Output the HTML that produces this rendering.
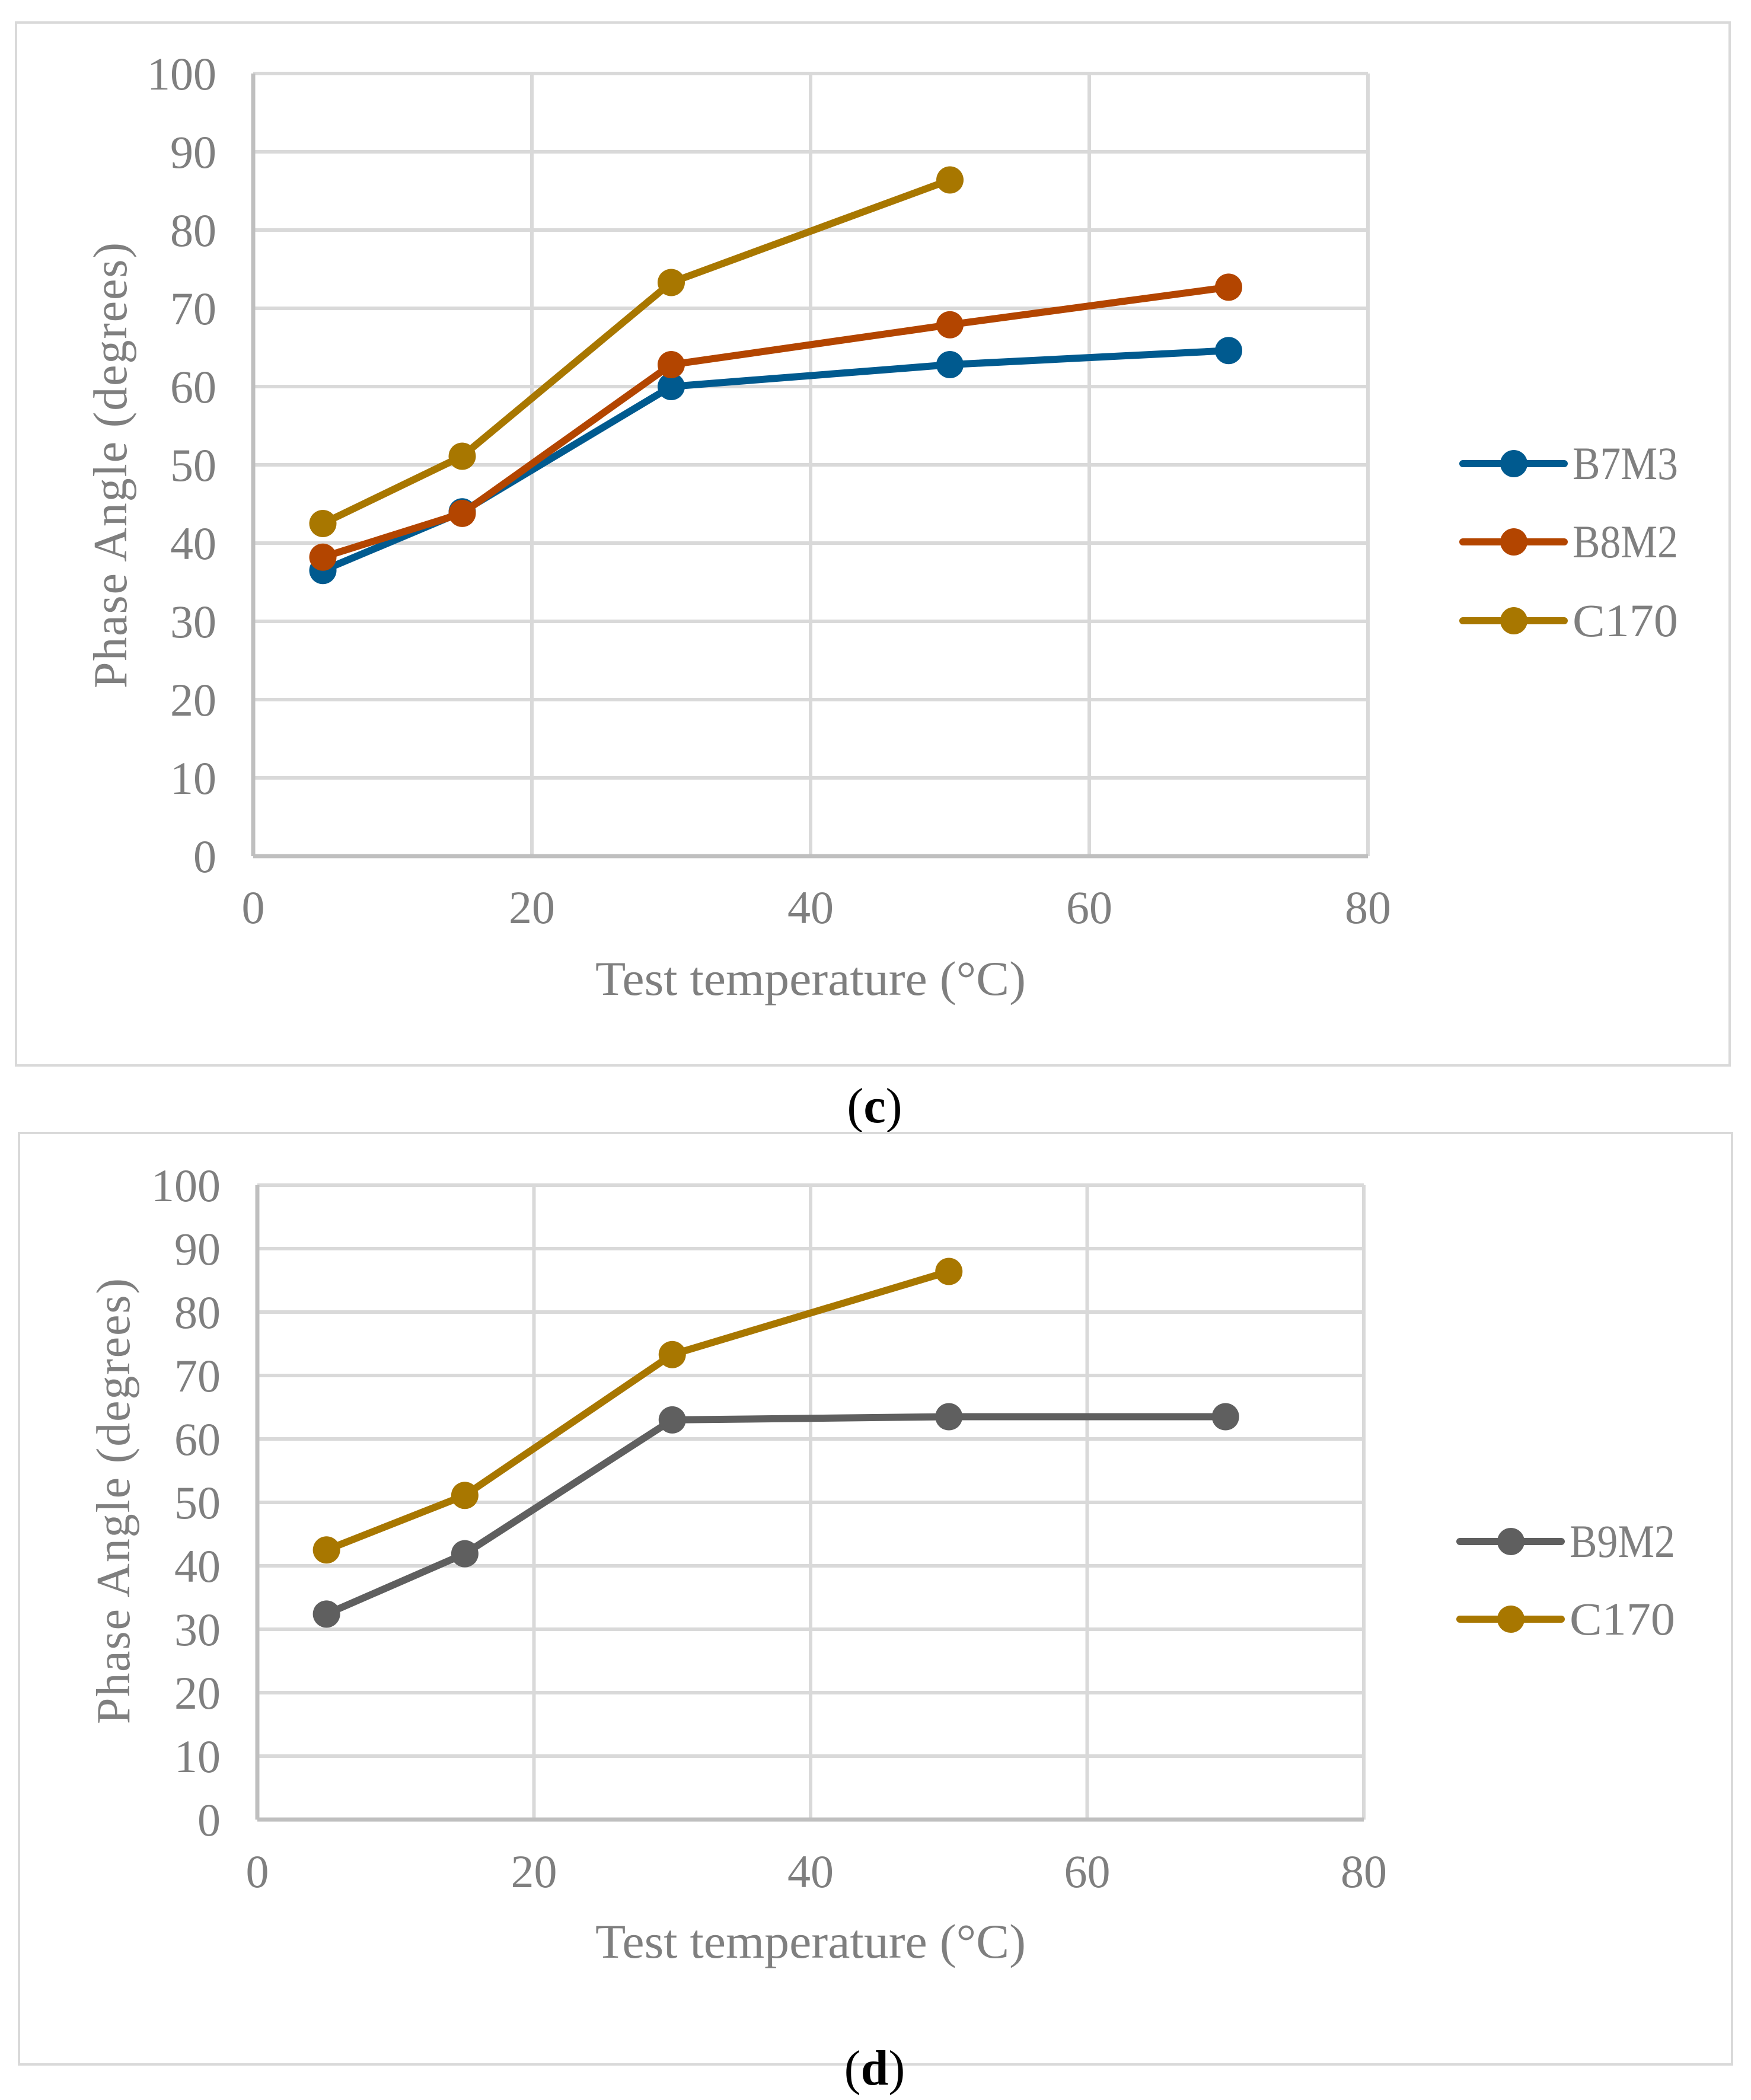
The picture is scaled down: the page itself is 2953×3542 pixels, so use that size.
<!DOCTYPE html>
<html><head><meta charset="utf-8"><style>
html,body{margin:0;padding:0;background:#fff;}
svg{display:block;font-family:"Liberation Serif",serif;}
</style></head><body>
<svg id="fig" width="2953" height="3542" viewBox="0 0 2953 3542" xmlns="http://www.w3.org/2000/svg"></svg>
<script>
// Shared axes
const xTicks = [0, 20, 40, 60, 80];
const yTicks = [0, 10, 20, 30, 40, 50, 60, 70, 80, 90, 100];
const temps = [5, 15, 30, 50, 70];
// Chart (c)
const cB7M3 = [36.5, 44.0, 60.0, 62.8, 64.6];
const cB8M2 = [38.2, 43.8, 62.8, 67.9, 72.7];
const cC170 = [42.5, 51.1, 73.3, 86.4];
// Chart (d)
const dB9M2 = [32.4, 41.9, 63.0, 63.5, 63.5];
const dC170 = [42.5, 51.1, 73.3, 86.4];
const seriesNamesC = ["B7M3", "B8M2", "C170"];
const seriesNamesD = ["B9M2", "C170"];

const NS = "http://www.w3.org/2000/svg";
const svg = document.getElementById("fig");
function mk(tag, attrs, parent) {
  const e = document.createElementNS(NS, tag);
  for (const k in attrs) e.setAttribute(k, attrs[k]);
  (parent || svg).appendChild(e);
  return e;
}

function drawChart(cfg) {
  const g = mk("g", {});
  
  
  const border = mk("rect", {x: cfg.box[0], y: cfg.box[1], width: cfg.box[2]-cfg.box[0], height: cfg.box[3]-cfg.box[1], fill: "none", stroke: "#d9d9d9", "stroke-width": 4}, g);
  
  
  const X = v => cfg.x0 + (v - 0) / 80 * (cfg.x1 - cfg.x0);
  const Y = v => cfg.y0 - v / 100 * (cfg.y0 - cfg.y1);
  yTicks.forEach(t => {
    if (t === 0) return;
    const l = mk("line", {x1: cfg.x0, x2: cfg.x1, y1: Y(t), y2: Y(t), stroke: "#d9d9d9", "stroke-width": 6}, g);
    
    
  });
  xTicks.forEach(t => {
    if (t === 0) return;
    const l = mk("line", {x1: X(t), x2: X(t), y1: cfg.y1, y2: cfg.y0, stroke: "#d9d9d9", "stroke-width": 6}, g);
    
    
  });
  const ya = mk("line", {x1: cfg.x0, x2: cfg.x0, y1: cfg.y1, y2: cfg.y0, stroke: "#bfbfbf", "stroke-width": 7}, g);
  
  
  const xa = mk("line", {x1: cfg.x0, x2: cfg.x1, y1: cfg.y0, y2: cfg.y0, stroke: "#bfbfbf", "stroke-width": 7}, g);
  
  
  yTicks.forEach(t => {
    const tx = mk("text", {x: cfg.x0 - 62, y: Y(t) + 27, "text-anchor": "end", "font-size": 78, fill: "#7f7f7f"}, g);
    tx.textContent = t;
    
    
  });
  xTicks.forEach(t => {
    const tx = mk("text", {x: X(t), y: cfg.xTickY + 27, "text-anchor": "middle", "font-size": 78, fill: "#7f7f7f"}, g);
    tx.textContent = t;
    
    
  });
  const xt = mk("text", {x: (cfg.x0 + cfg.x1) / 2, y: cfg.xTitleY + 28, "text-anchor": "middle", "font-size": 82, fill: "#7f7f7f", textLength: 726, lengthAdjust: "spacingAndGlyphs"}, g);
  xt.textContent = "Test temperature (°C)";
  
  
  const yt = mk("text", {x: 0, y: 0, "text-anchor": "middle", "font-size": 80, fill: "#7f7f7f", textLength: 752, lengthAdjust: "spacing", transform: `translate(${cfg.yTitleX + 28},${cfg.yTitleY}) rotate(-90)`}, g);
  yt.textContent = "Phase Angle (degrees)";
  
  
  cfg.series.forEach((s, si) => {
    const pts = s.values.map((v, i) => X(temps[i]) + "," + Y(v)).join(" ");
    const pl = mk("polyline", {points: pts, fill: "none", stroke: s.color, "stroke-width": 12, "stroke-linejoin": "round", "stroke-linecap": "round"}, g);
    
    
    s.values.forEach((v, i) => {
      const c = mk("circle", {cx: X(temps[i]), cy: Y(v), r: 23, fill: s.color}, g);
      
      
    });
    const ly = cfg.legendY[si];
    const lg = mk("g", {}, g);
    
    
    mk("line", {x1: cfg.legendX, x2: cfg.legendX + 171, y1: ly, y2: ly, stroke: s.color, "stroke-width": 12, "stroke-linecap": "round"}, lg);
    mk("circle", {cx: cfg.legendX + 86, cy: ly, r: 23, fill: s.color}, lg);
    const lt = mk("text", {x: cfg.legendX + 185, y: ly + 26, "font-size": 78, fill: "#7f7f7f", textLength: 178, lengthAdjust: "spacingAndGlyphs"}, lg);
    lt.textContent = s.name;
  });
  const cap = mk("text", {x: cfg.capX, y: cfg.capY + 28, "text-anchor": "middle", "font-size": 84, fill: "#000"}, svg);
  
  
  cap.innerHTML = '(<tspan font-weight="bold">' + cfg.cap + '</tspan>)';
}

drawChart({
  name: "chart-c", box: [27, 38, 2917, 1797],
  x0: 427, x1: 2307, y0: 1444, y1: 124,
  xTickY: 1530, xTitleY: 1650, yTitleX: 185, yTitleY: 785,
  legendX: 2467, legendY: [782, 914, 1047],
  series: [
    {name: seriesNamesC[0], values: cB7M3, color: "#005a8f"},
    {name: seriesNamesC[1], values: cB8M2, color: "#b34500"},
    {name: seriesNamesC[2], values: cC170, color: "#a87700"}
  ],
  cap: "c", capX: 1475, capY: 1865
});
drawChart({
  name: "chart-d", box: [32, 1911, 2921, 3482],
  x0: 434, x1: 2300, y0: 3069, y1: 1999,
  xTickY: 3156, xTitleY: 3274, yTitleX: 190, yTitleY: 2532,
  legendX: 2462, legendY: [2600, 2731],
  series: [
    {name: seriesNamesD[0], values: dB9M2, color: "#5f5f5f"},
    {name: seriesNamesD[1], values: dC170, color: "#a87700"}
  ],
  cap: "d", capX: 1475, capY: 3488
});
</script>
</body></html>
